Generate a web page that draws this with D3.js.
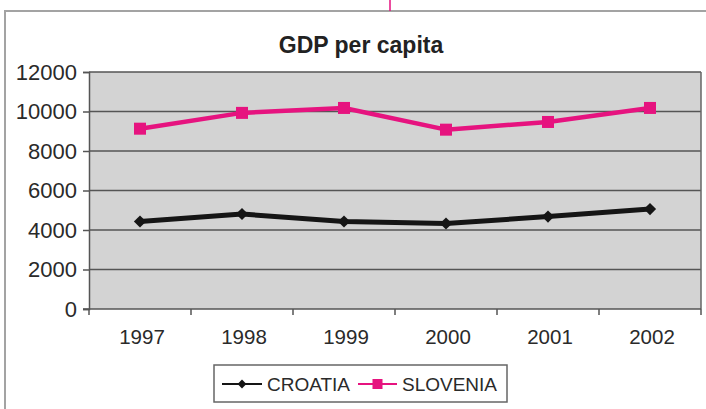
<!DOCTYPE html>
<html>
<head>
<meta charset="utf-8">
<script src="https://cdn.jsdelivr.net/npm/d3@7"></script>
<style>
  html, body { margin: 0; padding: 0; background: #ffffff; }
  svg { display: block; font-family: "Liberation Sans", Arial, sans-serif; }
</style>
</head>
<body>
<svg id="chart" width="706" height="409"></svg>
<script>
// GDP per capita, 1997–2002
const years = ["1997", "1998", "1999", "2000", "2001", "2002"];
const croatia = [4430, 4810, 4430, 4330, 4680, 5060];
const slovenia = [9130, 9930, 10180, 9080, 9470, 10180];
const yTicks = [0, 2000, 4000, 6000, 8000, 10000, 12000];
const seriesNames = ["CROATIA", "SLOVENIA"];

const plot = { left: 89, right: 701, top: 72, bottom: 309 };

const svg = d3.select("#chart");

// outer frame
svg.append("rect")
  .attr("x", 5).attr("y", 11)
  .attr("width", 740).attr("height", 440)
  .attr("fill", "#ffffff")
  .attr("stroke", "#a3a3a3").attr("stroke-width", 2);

// small magenta rule at the top edge
svg.append("line")
  .attr("x1", 390).attr("x2", 390).attr("y1", 0).attr("y2", 11)
  .attr("stroke", "#e4117f").attr("stroke-width", 1.5);

// title
svg.append("text")
  .attr("x", 361).attr("y", 53)
  .attr("text-anchor", "middle")
  .attr("font-size", 23).attr("font-weight", "bold")
  .attr("fill", "#222")
  .text("GDP per capita");

const x = d3.scaleBand().domain(years).range([plot.left, plot.right]).padding(0);
const y = d3.scaleLinear().domain([0, 12000]).range([plot.bottom, plot.top]);

// plot background
svg.append("rect")
  .attr("x", plot.left).attr("y", plot.top)
  .attr("width", plot.right - plot.left).attr("height", plot.bottom - plot.top)
  .attr("fill", "#d3d3d3");

// horizontal gridlines
svg.append("g")
  .selectAll("line")
  .data(yTicks.filter(d => d > 0))
  .join("line")
  .attr("x1", plot.left).attr("x2", plot.right)
  .attr("y1", d => y(d)).attr("y2", d => y(d))
  .attr("stroke", "#555").attr("stroke-width", 1.5);

// right border of plot
svg.append("line")
  .attr("x1", plot.right).attr("x2", plot.right)
  .attr("y1", plot.top).attr("y2", plot.bottom)
  .attr("stroke", "#666").attr("stroke-width", 1.5);

// y axis
const yAxis = svg.append("g")
  .attr("transform", `translate(${plot.left},0)`)
  .call(d3.axisLeft(y).tickValues(yTicks).tickSize(6).tickPadding(6).tickFormat(d3.format("d")));
yAxis.select(".domain").attr("stroke", "#555").attr("stroke-width", 1.5);
yAxis.selectAll(".tick line").attr("stroke", "#555").attr("stroke-width", 1.5);
yAxis.selectAll(".tick text")
  .attr("font-size", 22).attr("fill", "#2a2a2a")
  .attr("font-family", "Liberation Sans, Arial, sans-serif");

// x axis (ticks on category boundaries)
const xAxis = svg.append("g")
  .attr("transform", `translate(0,${plot.bottom})`);
xAxis.append("line")
  .attr("x1", plot.left - 6).attr("x2", plot.right)
  .attr("y1", 0).attr("y2", 0)
  .attr("stroke", "#555").attr("stroke-width", 1.5);
const bounds = years.map(d => x(d)).concat([x(years[years.length - 1]) + x.bandwidth()]);
xAxis.selectAll("line.tk")
  .data(bounds)
  .join("line").attr("class", "tk")
  .attr("x1", d => d).attr("x2", d => d)
  .attr("y1", 0).attr("y2", 6)
  .attr("stroke", "#555").attr("stroke-width", 1.5);
xAxis.selectAll("text")
  .data(years)
  .join("text")
  .attr("x", d => x(d) + x.bandwidth() / 2 + 2)
  .attr("y", 35)
  .attr("text-anchor", "middle")
  .attr("font-size", 20.5).attr("fill", "#2a2a2a")
  .text(d => d);

const cx = d => x(d) + x.bandwidth() / 2;
const line = d3.line().x((d, i) => cx(years[i])).y(d => y(d));

const pink = "#e6137f";
const dark = "#151515";

// Slovenia series
svg.append("path")
  .datum(slovenia)
  .attr("d", line)
  .attr("fill", "none").attr("stroke", pink).attr("stroke-width", 4.5)
  .attr("stroke-linejoin", "round");
svg.append("g")
  .selectAll("rect")
  .data(slovenia)
  .join("rect")
  .attr("x", (d, i) => cx(years[i]) - 6)
  .attr("y", d => y(d) - 6)
  .attr("width", 12).attr("height", 12)
  .attr("fill", pink);

// Croatia series
svg.append("path")
  .datum(croatia)
  .attr("d", line)
  .attr("fill", "none").attr("stroke", dark).attr("stroke-width", 5)
  .attr("stroke-linejoin", "round");
const diamond = d3.symbol().type(d3.symbolDiamond2).size(95);
svg.append("g")
  .selectAll("path")
  .data(croatia)
  .join("path")
  .attr("transform", (d, i) => `translate(${cx(years[i])},${y(d)})`)
  .attr("d", diamond)
  .attr("fill", dark);

// legend
const legend = svg.append("g");
legend.append("rect")
  .attr("x", 214).attr("y", 365).attr("width", 293).attr("height", 37)
  .attr("fill", "#ffffff").attr("stroke", "#666").attr("stroke-width", 1.5);
const ly = 384;
const items = [
  { name: seriesNames[0], color: dark, x0: 222, x1: 262, tx: 267, mark: "diamond" },
  { name: seriesNames[1], color: pink, x0: 358, x1: 397, tx: 402, mark: "square" }
];
items.forEach(it => {
  legend.append("line")
    .attr("x1", it.x0).attr("x2", it.x1).attr("y1", ly).attr("y2", ly)
    .attr("stroke", it.color).attr("stroke-width", 2);
  const mx = (it.x0 + it.x1) / 2;
  if (it.mark === "diamond") {
    legend.append("path")
      .attr("transform", `translate(${mx},${ly})`)
      .attr("d", d3.symbol().type(d3.symbolDiamond2).size(50))
      .attr("fill", it.color);
  } else {
    legend.append("rect")
      .attr("x", mx - 5).attr("y", ly - 5).attr("width", 10).attr("height", 10)
      .attr("fill", it.color);
  }
  legend.append("text")
    .attr("x", it.tx).attr("y", ly + 7)
    .attr("font-size", 19).attr("fill", "#2a2a2a")
    .text(it.name);
});
</script>
</body>
</html>
